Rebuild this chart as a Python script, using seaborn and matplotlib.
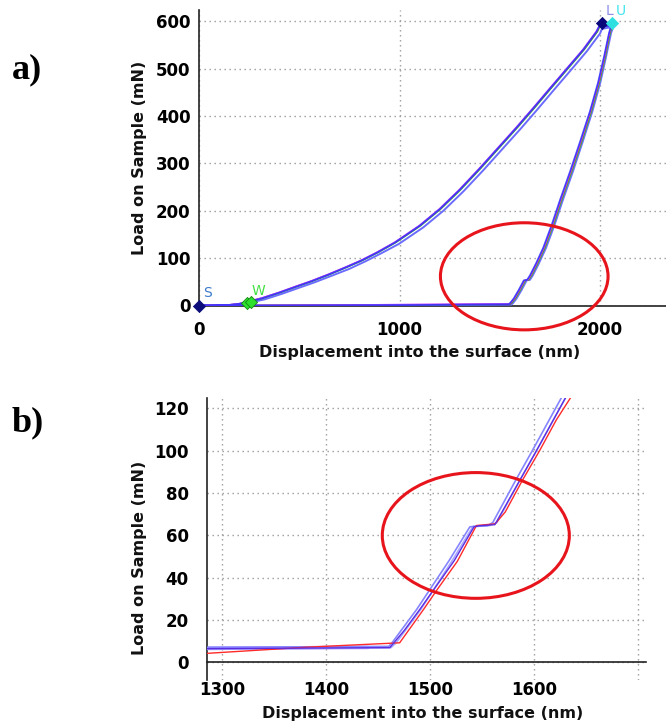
import matplotlib
matplotlib.use("Agg")
import matplotlib.pyplot as plt
from matplotlib.patches import Ellipse
import seaborn as sns
import pandas as pd

# ---------------- data: panel a) (full load-displacement curves) ----------------
blue1_h = [0, 300, 700, 1100, 1545, 1552, 1570, 1595, 1620, 1636, 1650, 1680, 1717, 1759, 1800,
           1850, 1900, 1950, 1990, 2020, 2045, 2055, 1995,
           1983, 1917, 1834, 1751, 1667, 1585, 1500, 1400, 1300, 1200, 1100, 978, 890, 811, 730,
           645, 560, 479, 400, 313, 238, 200, 146, 60, 0]
blue1_load = [0, 0, 0.5, 1, 2.5, 5, 15, 33, 53, 54, 63, 88, 122, 170, 222,
              282, 345, 410, 470, 525, 575, 590, 589,
              578, 540, 499, 458, 416, 376, 336, 289, 244, 203, 168, 133, 112, 95, 80,
              65, 51, 39, 27, 15, 7, 3.5, 1, 0, 0]

blue2_h = [0, 300, 700, 1100, 1558, 1566, 1584, 1609, 1634, 1650, 1664, 1694, 1731, 1773, 1814,
           1864, 1913, 1962, 2001, 2030, 2055, 2066, 2010,
           2000, 1935, 1853, 1770, 1686, 1604, 1519, 1419, 1319, 1219, 1119, 997, 908, 829, 748,
           663, 577, 496, 416, 328, 252, 212, 158, 70, 0]
blue2_load = [0, 0, 0.3, 0.8, 2, 5, 15, 33, 53, 54, 63, 88, 122, 170, 222,
              282, 345, 410, 470, 525, 575, 588, 584,
              574, 537, 496, 455, 413, 373, 333, 286, 241, 200, 165, 130, 110, 93, 77,
              63, 49, 37, 25, 13, 6, 3, 1, 0, 0]

red_h = [0, 400, 800, 1200, 1548, 1556, 1575, 1600, 1625, 1641, 1655, 1685, 1722, 1764, 1805,
         1855, 1905, 1954, 1994, 2024, 2048, 2058, 1998,
         1985, 1919, 1836, 1753, 1669, 1587, 1502, 1402, 1302, 1202, 1102, 980, 892, 813, 732,
         647, 562, 481, 402, 315, 240, 202, 148, 62, 0]
red_load = [0, 0.5, 1, 2, 3, 5, 15, 33, 53, 54, 63, 88, 122, 170, 222,
            282, 345, 410, 470, 525, 575, 590, 590,
            579, 541, 500, 459, 417, 377, 337, 290, 245, 204, 169, 134, 113, 96, 81,
            66, 52, 40, 28, 16, 8, 4, 1.5, 0.5, 0]

green_h = [0, 400, 800, 1200, 1550, 1560, 1579, 1604, 1629, 1645, 1659, 1689, 1726, 1768, 1809,
           1859, 1909, 1958, 1997, 2027, 2051, 2061, 2000,
           1988, 1922, 1839, 1756, 1672, 1590, 1505, 1405, 1305, 1205, 1105, 983, 895, 816, 735,
           650, 565, 484, 405, 318, 242, 204, 150, 64, 0]
green_load = [0, 0.3, 0.8, 1.5, 2.5, 5, 15, 33, 53, 54, 63, 88, 122, 170, 222,
              282, 345, 410, 470, 525, 575, 589, 589,
              578, 540, 499, 458, 416, 376, 336, 289, 244, 203, 168, 133, 112, 95, 80,
              65, 51, 39, 27, 15, 7, 3.5, 1, 0.3, 0]

magenta_h = [0, 400, 800, 1150, 1546, 1554, 1573, 1598, 1623, 1639, 1653, 1683, 1720, 1762, 1803,
             1853, 1903, 1952, 1992, 2022, 2046, 2056, 1996,
             1981, 1915, 1832, 1749, 1665, 1583, 1498, 1398, 1298, 1198, 1098, 976, 888, 809, 728,
             643, 558, 477, 398, 311, 236, 198, 144, 58, 0]
magenta_load = [0, 0.5, 1.5, 3, 4, 6, 15, 33, 53, 54, 63, 88, 122, 170, 222,
                282, 345, 410, 470, 525, 575, 590, 590,
                579, 541, 500, 459, 417, 377, 337, 290, 245, 204, 169, 134, 113, 96, 81,
                66, 52, 40, 28, 16, 8, 4, 1.5, 0.5, 0]

# segment markers (S, W, L, U)
marker_names = ["S", "W", "W", "L", "U"]
marker_h = [0, 238, 258, 2010, 2060]
marker_load = [0, 6, 8, 597, 597]

# ---------------- data: panel b) (zoom on the pop-in) ----------------
red_b_h = [1285, 1380, 1470.5, 1493.5, 1506.6, 1526, 1544.3, 1562.3, 1572, 1588.5, 1605, 1621, 1636]
red_b_load = [4.1, 7.0, 9.1, 24.9, 34.3, 47.7, 64.6, 65.4, 71, 86, 100, 114.5, 126]

purple_b_h = [1285, 1380, 1461, 1475, 1490, 1523, 1542, 1547, 1562, 1586, 1602, 1631]
purple_b_load = [6.3, 6.6, 6.8, 15, 25, 48, 64, 64.5, 65, 86, 100, 126]

lblue1_b_h = [1285, 1380, 1460, 1463, 1487, 1518, 1538, 1555, 1560, 1582, 1598, 1627]
lblue1_b_load = [7.0, 7.2, 7.4, 9, 25, 48, 64, 64.5, 66, 86, 100, 126]

lblue2_b_h = [1285, 1380, 1462, 1467, 1491, 1521, 1541, 1557, 1564, 1586, 1602, 1631]
lblue2_b_load = [6.0, 6.4, 6.8, 9, 25, 48, 64.2, 64.6, 66, 86, 100, 126]

lav_b_h = [1285, 1340, 1405, 1440]
lav_b_load = [6.5, 6.6, 6.8, 6.9]

# ---------------- figure ----------------
W, H = 666, 727
sns.set_style("white")
plt.rcParams["font.family"] = ["DejaVu Sans"]
plt.rcParams["text.color"] = "black"
plt.rcParams["axes.labelcolor"] = "black"
plt.rcParams["xtick.labelcolor"] = "black"
plt.rcParams["ytick.labelcolor"] = "black"
fig = plt.figure(figsize=(W / 100, H / 100), dpi=100)


def fx(px):
    return px / W


def fy(py):
    return 1 - py / H


grid_kw = dict(color="#9a9a9a", linestyle=(0, (1, 2.6)), linewidth=1.0)
label_kw = dict(fontsize=11.5, fontweight="bold", color="#111111")


def draw(ax, h, load, color, lw, alpha=1.0, z=3):
    df = pd.DataFrame({"h": h, "load": load})
    sns.lineplot(data=df, x="h", y="load", sort=False, estimator=None, ax=ax,
                 color=color, linewidth=lw, alpha=alpha, zorder=z)


# ---- panel a ----
ax1 = fig.add_axes([fx(199), fy(305.5), fx(666 - 199), (305.5 - 10.3) / H])
ax1.set_xlim(0, 2329)
ax1.set_ylim(0, 623)

draw(ax1, blue2_h, blue2_load, "#6b6bff", 1.4)
draw(ax1, green_h, green_load, "#30c030", 0.9)
draw(ax1, red_h, red_load, "#f03a3a", 0.9)
draw(ax1, magenta_h, magenta_load, "#cc55ff", 0.9)
draw(ax1, blue1_h, blue1_load, "#2f2fff", 1.3, alpha=0.85)

mk = pd.DataFrame({"h": marker_h, "load": marker_load, "name": marker_names})
mk_colors = {"S": "#0b0b7a", "W": "#2ee02e", "L": "#08087a", "U": "#30e0e0"}
for name, sub in mk.groupby("name"):
    sns.scatterplot(data=sub, x="h", y="load", marker="D", s=38, color=mk_colors[name],
                    edgecolor="#118811" if name == "W" else mk_colors[name], linewidth=0.6,
                    ax=ax1, zorder=6, clip_on=False, legend=False)

txt_kw = dict(fontsize=10, family=["DejaVu Sans"], zorder=7, clip_on=False)
ax1.text(40, 12, "S", color="#3d7acc", ha="center", va="bottom", **txt_kw)
ax1.text(298, 15, "W", color="#44e044", ha="center", va="bottom", **txt_kw)
ax1.text(2045, 607, "L", color="#8f8fe8", ha="center", va="bottom", **txt_kw)
ax1.text(2105, 607, "U", color="#40e4f0", ha="center", va="bottom", **txt_kw)

ax1.add_patch(Ellipse((1622, 61.6), 836, 226, fill=False, edgecolor="#e8141c",
                      linewidth=2.2, clip_on=False, zorder=8))

ax1.set_xticks([0, 1000, 2000])
ax1.set_xticks([500, 1500], minor=True)
ax1.set_yticks(range(0, 601, 100))
ax1.set_yticks(range(50, 600, 100), minor=True)
ax1.grid(True, which="major", **grid_kw)
ax1.set_axisbelow(True)
for s in ["top", "right"]:
    ax1.spines[s].set_visible(False)
for s in ["left", "bottom"]:
    ax1.spines[s].set_color("#222222")
    ax1.spines[s].set_linewidth(1.2)
ax1.tick_params(axis="x", which="both", direction="inout", length=5, width=1, color="#333333",
                pad=9, labelsize=12, labelcolor="black")
ax1.tick_params(axis="y", which="major", length=0, pad=6, labelsize=12, labelcolor="black")
ax1.tick_params(axis="y", which="minor", direction="inout", length=5, width=1, color="#333333")
for t in ax1.get_xticklabels() + ax1.get_yticklabels():
    t.set_fontweight("bold")

ax1.set_xlabel("Displacement into the surface (nm)", **label_kw)
ax1.set_ylabel("Load on Sample (mN)", **label_kw)
ax1.xaxis.set_label_coords(fx(420), fy(352.3), transform=fig.transFigure)
ax1.yaxis.set_label_coords(fx(139.6), fy(158), transform=fig.transFigure)
ax1.xaxis.label.set_va("center")
ax1.yaxis.label.set_va("center")

# ---- panel b ----
ax2 = fig.add_axes([fx(206.9), fy(680), fx(646 - 206.9), (680 - 398.3) / H])
ax2.set_xlim(1285.2, 1707.3)
ax2.set_ylim(-8.5, 124.8)

draw(ax2, lav_b_h, lav_b_load, "#b98cff", 2.6, alpha=0.8, z=2)
draw(ax2, lblue2_b_h, lblue2_b_load, "#a8a8ff", 1.2)
draw(ax2, lblue1_b_h, lblue1_b_load, "#8585ff", 1.2)
draw(ax2, red_b_h, red_b_load, "#ff2a2a", 1.0)
draw(ax2, purple_b_h, purple_b_load, "#5a2de0", 1.0)

ax2.add_patch(Ellipse((1543.7, 59.9), 179.8, 59.5, fill=False, edgecolor="#e8141c",
                      linewidth=2.2, clip_on=False, zorder=8))

ax2.set_xticks(range(1300, 1701, 100))
ax2.set_xticks(range(1350, 1700, 100), minor=True)
ax2.set_xticklabels(["1300", "1400", "1500", "1600", ""])
ax2.set_yticks(range(0, 121, 20))
ax2.set_yticks(range(10, 121, 20), minor=True)
ax2.grid(True, which="major", **grid_kw)
ax2.set_axisbelow(True)
for s in ["top", "right"]:
    ax2.spines[s].set_visible(False)
ax2.spines["bottom"].set_position(("data", 0))
for s in ["left", "bottom"]:
    ax2.spines[s].set_color("#222222")
    ax2.spines[s].set_linewidth(1.2)
ax2.tick_params(axis="x", which="major", direction="inout", length=6, width=1, color="#333333",
                pad=11, labelsize=12, labelcolor="black")
ax2.tick_params(axis="x", which="minor", direction="inout", length=3, width=1, color="#333333")
ax2.tick_params(axis="y", which="major", direction="out", length=3, width=1, color="#8fb4e8",
                pad=10, labelsize=12, labelcolor="black")
ax2.tick_params(axis="y", which="minor", direction="inout", length=5, width=1, color="#333333")
for t in ax2.get_xticklabels() + ax2.get_yticklabels():
    t.set_fontweight("bold")

ax2.set_xlabel("Displacement into the surface (nm)", **label_kw)
ax2.set_ylabel("Load on Sample (mN)", **label_kw)
ax2.xaxis.set_label_coords(fx(422.3), fy(713.3), transform=fig.transFigure)
ax2.yaxis.set_label_coords(fx(139.6), fy(558), transform=fig.transFigure)
ax2.xaxis.label.set_va("center")
ax2.yaxis.label.set_va("center")

# ---- panel letters ----
fig.text(fx(12), fy(78.5), "a)", fontsize=26, fontweight="bold", color="black",
         family=["Liberation Serif", "DejaVu Serif"], ha="left", va="baseline")
fig.text(fx(12), fy(431.5), "b)", fontsize=26, fontweight="bold", color="black",
         family=["Liberation Serif", "DejaVu Serif"], ha="left", va="baseline")

fig.savefig("out.png", dpi=100)
